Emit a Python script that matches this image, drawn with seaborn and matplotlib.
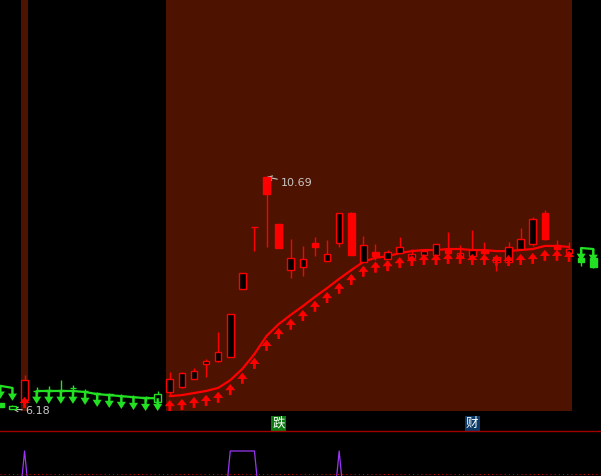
import numpy as np
import pandas as pd
import matplotlib
matplotlib.use("Agg")
import matplotlib.pyplot as plt
import seaborn as sns

# ---- data ----
bars = list(range(50))

open_ = [6.30, 6.18, 6.36, 6.53, 6.53, 6.53, 6.59, 6.53, 6.47, 6.45,
         6.43, 6.41, 6.39, 6.32, 6.51, 6.61, 6.76, 7.06, 7.11, 7.19,
         8.51, 9.72, 10.69, 9.78, 8.88, 8.94, 9.41, 9.06, 9.41, 9.99,
         9.04, 9.23, 9.10, 9.21, 9.12, 9.17, 9.17, 9.29, 9.14, 9.15,
         9.25, 9.04, 9.04, 9.29, 9.39, 9.99, 9.37, 9.21, 9.12, 9.12]
high = [6.30, 6.26, 6.84, 6.61, 6.63, 6.74, 6.65, 6.57, 6.51, 6.49,
        6.47, 6.45, 6.43, 6.53, 6.90, 6.90, 6.98, 7.15, 7.68, 8.03,
        8.82, 9.72, 10.69, 9.78, 9.49, 9.35, 9.52, 9.47, 9.99, 10.01,
        9.54, 9.39, 9.27, 9.52, 9.29, 9.29, 9.39, 9.62, 9.37, 9.66,
        9.43, 9.17, 9.43, 9.70, 9.91, 10.05, 9.47, 9.43, 9.33, 9.31]
low = [6.22, 6.18, 6.30, 6.47, 6.47, 6.49, 6.47, 6.45, 6.39, 6.38,
       6.36, 6.34, 6.34, 6.22, 6.45, 6.59, 6.76, 6.80, 7.09, 7.19,
       8.51, 9.25, 9.33, 9.31, 8.73, 8.77, 9.15, 9.06, 9.33, 9.17,
       9.04, 9.08, 9.10, 9.21, 9.12, 9.14, 9.15, 9.15, 9.12, 9.14,
       9.17, 8.86, 9.04, 9.29, 9.35, 9.47, 9.27, 9.19, 8.96, 8.92]
close = [6.22, 6.24, 6.74, 6.53, 6.55, 6.55, 6.59, 6.53, 6.49, 6.47,
         6.43, 6.41, 6.41, 6.47, 6.76, 6.88, 6.92, 7.11, 7.29, 8.03,
         8.82, 9.72, 10.36, 9.31, 9.12, 9.10, 9.33, 9.19, 9.99, 9.17,
         9.37, 9.15, 9.23, 9.33, 9.19, 9.25, 9.39, 9.21, 9.21, 9.27,
         9.21, 9.14, 9.33, 9.49, 9.87, 9.49, 9.29, 9.29, 9.04, 8.94]

# trend / stop line drawn through the candles
trend = [6.63, 6.59, 6.49, 6.53, 6.53, 6.53, 6.53, 6.51, 6.47, 6.45,
         6.43, 6.41, 6.39, 6.39, 6.43, 6.45, 6.49, 6.53, 6.59, 6.74,
         6.96, 7.25, 7.60, 7.83, 8.01, 8.18, 8.36, 8.53, 8.71, 8.88,
         9.04, 9.12, 9.15, 9.21, 9.25, 9.27, 9.27, 9.29, 9.29, 9.27,
         9.27, 9.25, 9.25, 9.27, 9.29, 9.35, 9.35, 9.33, 9.31, 9.29]

# 'up' = red (hold) state, 'dn' = green state
state = ["dn", "dn", "up"] + ["dn"] * 11 + ["up"] * 34 + ["dn"] * 2

# lower indicator (purple)
signal = [0, 0, 1, 0, 0, 0, 0, 0, 0, 0,
          0, 0, 0, 0, 0, 0, 0, 0, 0, 1,
          1, 1, 0, 0, 0, 0, 0, 0, 1, 0,
          0, 0, 0, 0, 0, 0, 0, 0, 0, 0,
          0, 0, 0, 0, 0, 0, 0, 0, 0, 0]
signal_ref = 0.816

# marker labels in the strip under the price panel
mark_bars = [23, 39]
mark_text = ["跌", "财"]
mark_bg = ["#0d7a12", "#0c3a68"]

# ---- style ----
RED = "#ff0000"
GREEN = "#22e022"
BAND = "#4e1200"
PURPLE = "#9a35f5"
GREY = "#c8c8c8"
BODY_W = 0.54
XLIM = (-0.03, 49.64)
PRICE_YLIM = (6.141, 14.131)

df = pd.DataFrame({"bar": bars, "open": open_, "high": high, "low": low,
                   "close": close, "trend": trend, "state": state,
                   "signal": signal})
df["color"] = np.where(df["state"] == "up", RED, GREEN)
df["run"] = (df["state"] != df["state"].shift()).cumsum()

sns.set_theme(style="dark", rc={"figure.facecolor": "black",
                                "axes.facecolor": "black"})
plt.rcParams["font.family"] = ["DejaVu Sans", "Noto Sans CJK SC"]

fig = plt.figure(figsize=(6.01, 4.76), dpi=100)
ax = fig.add_axes([0, 65 / 476, 1, 411 / 476])
ax_lab = fig.add_axes([0, 45 / 476, 1, 20 / 476])
ax_ind = fig.add_axes([0, 0, 1, 45 / 476])

# background bands under the red state
for _, g in df.groupby("run"):
    if g["state"].iloc[0] == "up":
        ax.axvspan(g["bar"].min() - BODY_W / 2, g["bar"].max() + BODY_W / 2,
                   color=BAND, lw=0, zorder=0)

# trend line, one segment per colour run
for _, g in df.groupby("run"):
    if len(g) > 1:
        sns.lineplot(data=g, x="bar", y="trend", color=g["color"].iloc[0],
                     lw=1.6, ax=ax, zorder=2, legend=False)

# candles: wicks then bodies (hollow = close above open)
ax.vlines(df["bar"], df["low"], df["high"], colors=df["color"], lw=1, zorder=3)
for r in df.itertuples():
    lo, hi = min(r.open, r.close), max(r.open, r.close)
    face = "black" if r.close >= r.open else r.color
    ax.bar(r.bar, hi - lo, bottom=lo, width=BODY_W, color=face,
           edgecolor=r.color, lw=1, zorder=3.5)

# arrows under the trend line
for r in df.itertuples():
    if r.state == "up":
        ax.arrow(r.bar, r.trend - 0.29, 0, 0.215, width=0.22, head_width=0.84,
                 head_length=0.12, length_includes_head=True, color=RED,
                 lw=0, zorder=4)
    else:
        ax.arrow(r.bar, r.trend, 0, -0.25, width=0.2, head_width=0.75,
                 head_length=0.14, length_includes_head=True, color=GREEN,
                 lw=0, zorder=4)

# highest / lowest price notes
i_hi = int(np.argmax(high))
i_lo = int(np.argmin(low))
ax.annotate(f"{high[i_hi]:.2f}", xy=(i_hi, high[i_hi]), xytext=(14, -6),
            textcoords="offset pixels", color=GREY, fontsize=8, va="center",
            arrowprops=dict(arrowstyle="->", color=GREY, lw=0.8,
                            shrinkA=0, shrinkB=0))
ax.annotate(f"{low[i_lo]:.2f}", xy=(i_lo, low[i_lo]), xytext=(13, -2),
            textcoords="offset pixels", color=GREY, fontsize=8, va="center",
            arrowprops=dict(arrowstyle="->", color=GREY, lw=0.8,
                            shrinkA=0, shrinkB=0))

ax.set_xlim(*XLIM)
ax.set_ylim(*PRICE_YLIM)
ax.set_axis_off()

# marker strip
for b, t, c in zip(mark_bars, mark_text, mark_bg):
    ax_lab.text(b, 0.38, t, color="white", fontsize=9, ha="center",
                va="center", family=["Noto Sans CJK SC", "DejaVu Sans"],
                bbox=dict(boxstyle="square,pad=0.08", fc=c, ec="none"))
ax_lab.set_xlim(*XLIM)
ax_lab.set_ylim(0, 1)
ax_lab.set_axis_off()

# indicator panel
sns.lineplot(data=df, x="bar", y="signal", color=PURPLE, lw=0.9, ax=ax_ind,
             legend=False)
ax_ind.axhline(signal_ref, color="#d00000", lw=0.75, linestyle=(0, (1, 3)))
ax_ind.set_xlim(*XLIM)
ax_ind.set_ylim(0.8, 1.16)
ax_ind.set_xticks([])
ax_ind.set_yticks([])
ax_ind.set_xlabel("")
ax_ind.set_ylabel("")
for side in ["left", "right", "bottom"]:
    ax_ind.spines[side].set_visible(False)
ax_ind.spines["top"].set_visible(True)
ax_ind.spines["top"].set_color("#a00000")
ax_ind.spines["top"].set_linewidth(1)

fig.savefig("out.png", dpi=100, facecolor="black")
